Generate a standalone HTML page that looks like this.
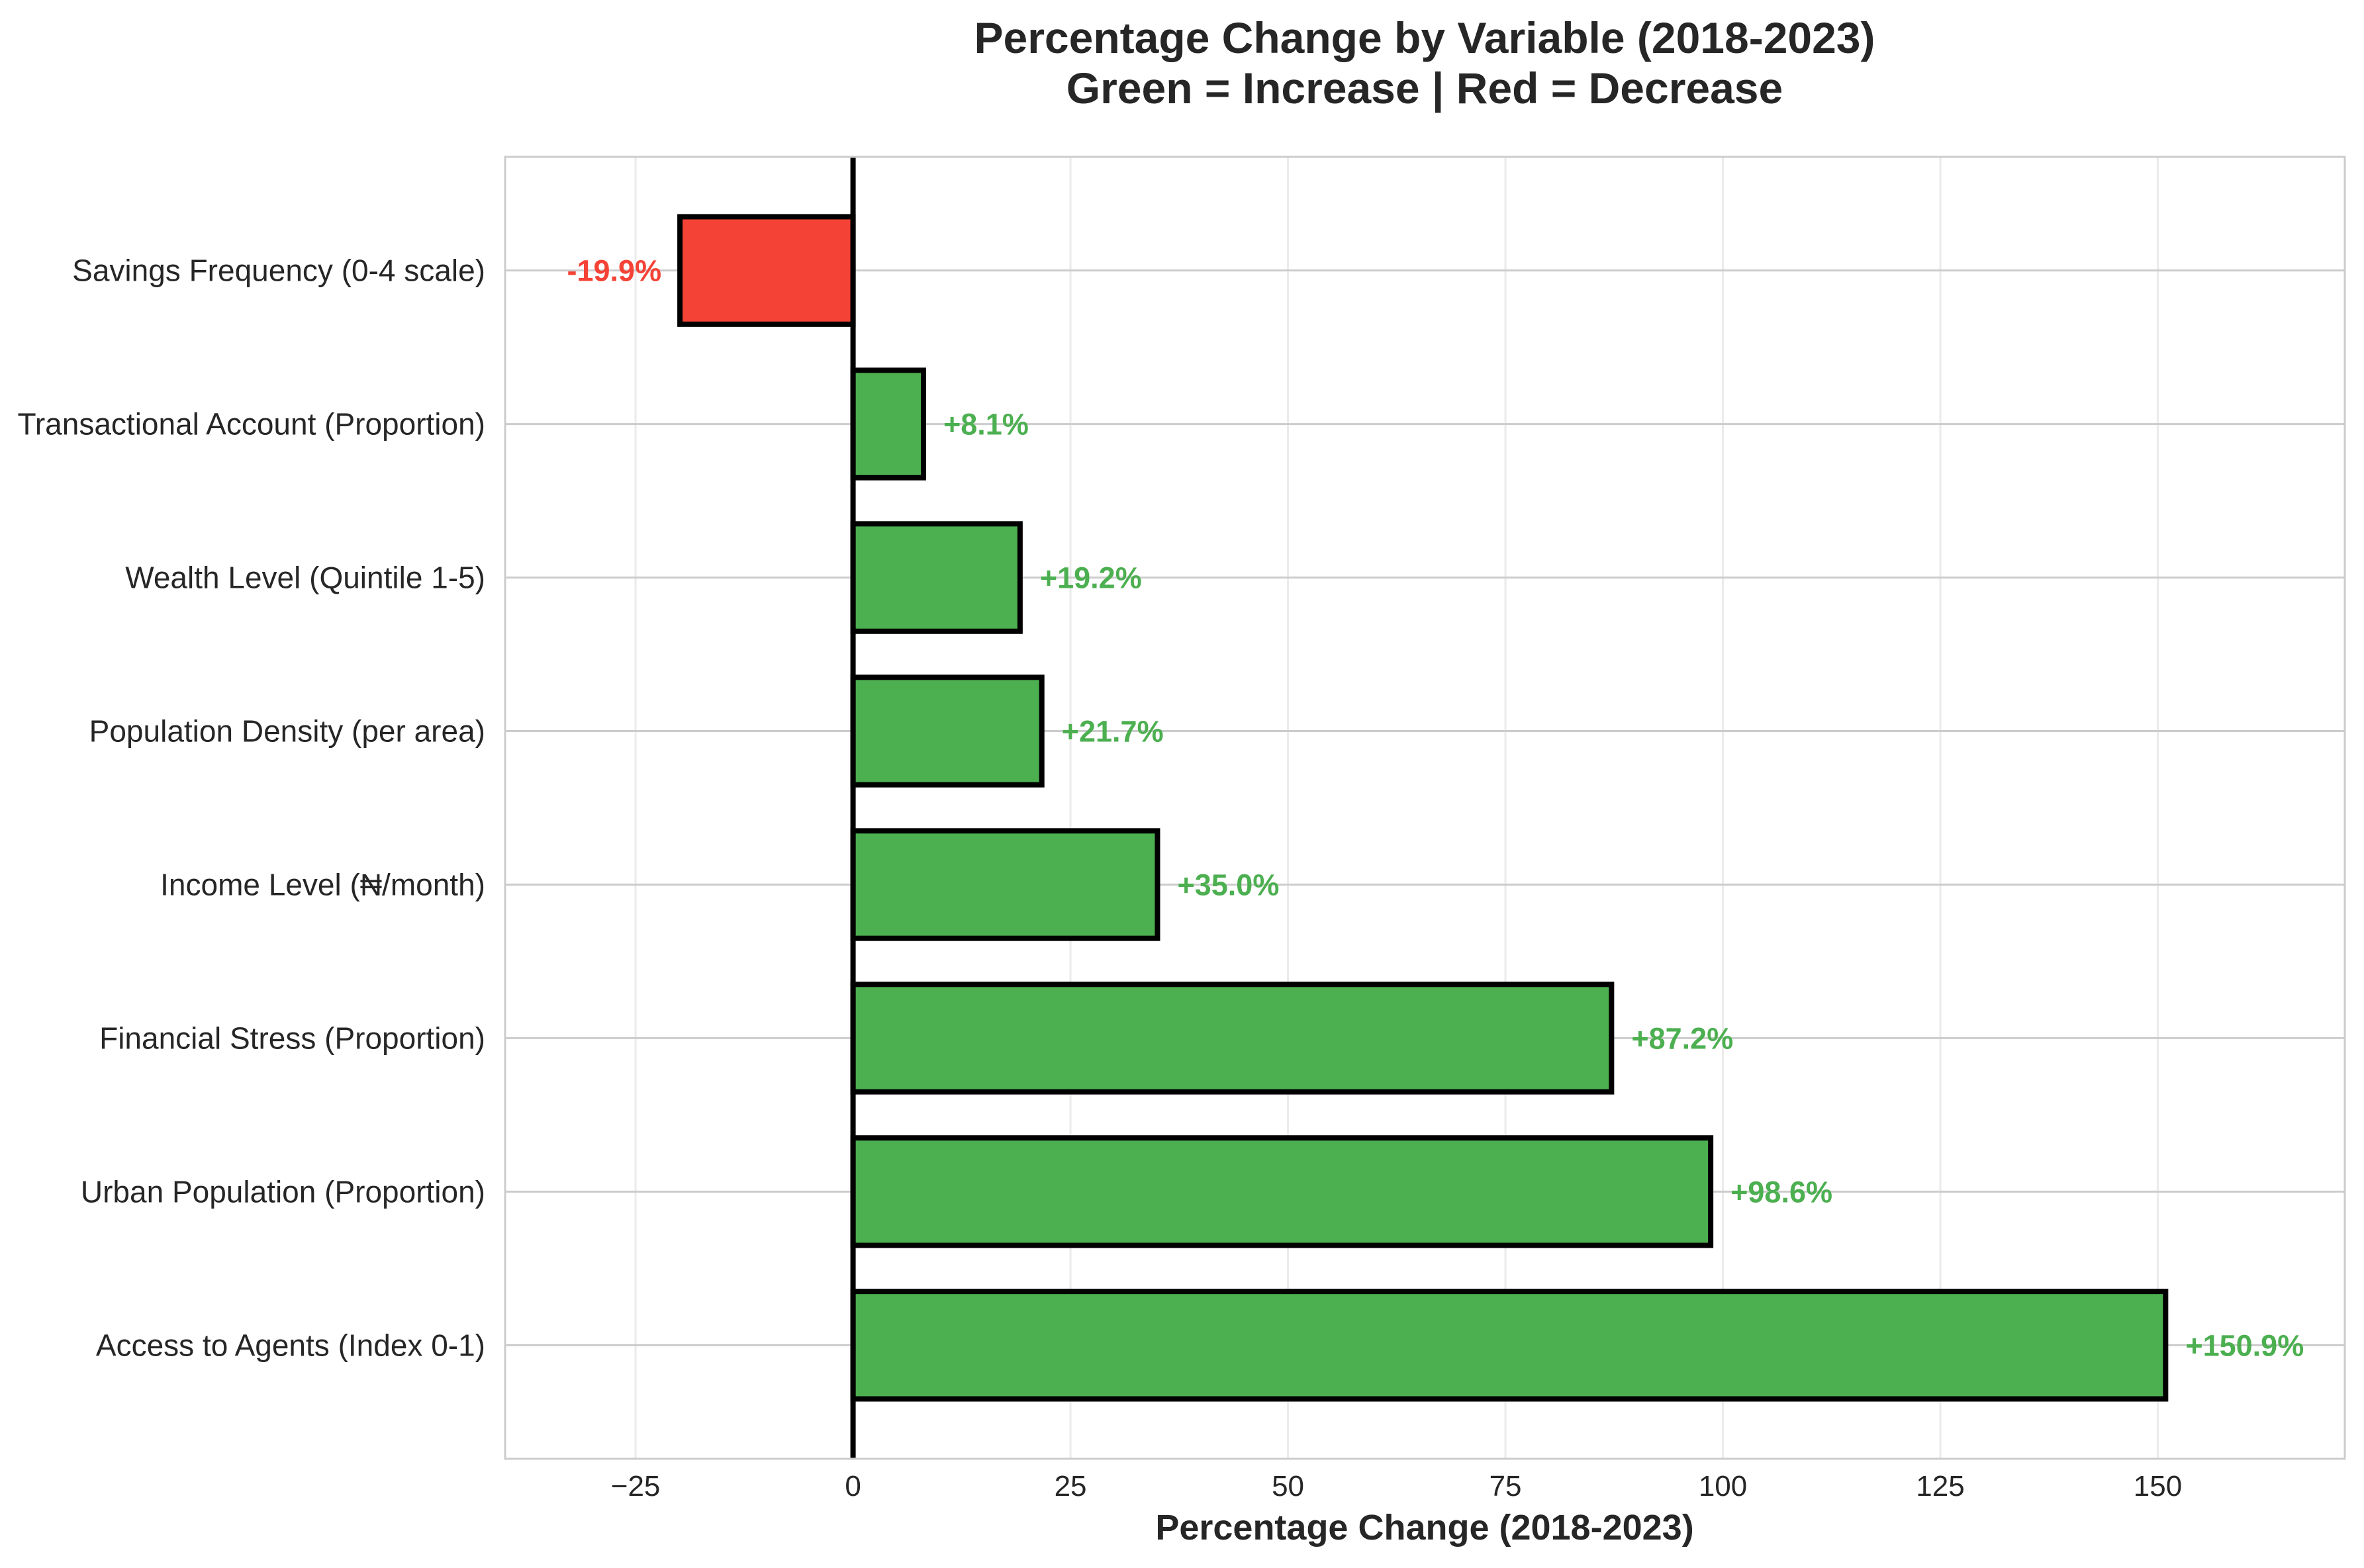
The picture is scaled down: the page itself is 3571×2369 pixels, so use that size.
<!DOCTYPE html>
<html><head><meta charset="utf-8"><style>
html,body{margin:0;padding:0;background:#fff;}
svg{display:block;font-family:"Liberation Sans","DejaVu Sans",sans-serif;}
</style></head><body>
<svg id="chart" width="3571" height="2369" viewBox="0 0 3571 2369">
<rect x="0" y="0" width="3571" height="2369" fill="#fff"/>
<text x="2152" y="80" text-anchor="middle" font-size="66" font-weight="bold" fill="#262626">Percentage Change by Variable (2018-2023)</text>
<text x="2152" y="156" text-anchor="middle" font-size="66" font-weight="bold" fill="#262626">Green = Increase | Red = Decrease</text>
<g id="grid"></g><g id="bars"></g><g id="labels"></g><g id="axes"></g>
<text x="2152" y="2326" text-anchor="middle" font-size="54" font-weight="bold" fill="#262626">Percentage Change (2018-2023)</text>
</svg>
<script>
const categories = ["Savings Frequency (0-4 scale)","Transactional Account (Proportion)","Wealth Level (Quintile 1-5)","Population Density (per area)","Income Level (₦/month)","Financial Stress (Proportion)","Urban Population (Proportion)","Access to Agents (Index 0-1)"];
const values = [-19.9, 8.1, 19.2, 21.7, 35.0, 87.2, 98.6, 150.9];
const valueLabels = ["-19.9%","+8.1%","+19.2%","+21.7%","+35.0%","+87.2%","+98.6%","+150.9%"];
const xTicks = [-25, 0, 25, 50, 75, 100, 125, 150];
const xTickLabels = ["−25","0","25","50","75","100","125","150"];

const L=763,R=3542,T=237,B=2204, xmin=-40, xmax=171.5;
const ymin=-0.74, ymax=7.74;
function xs(v){return L+(v-xmin)/(xmax-xmin)*(R-L);}
function ys(i){return T+(i-ymin)/(ymax-ymin)*(B-T);}
const NS="http://www.w3.org/2000/svg";
function mk(tag,attrs,parent){const e=document.createElementNS(NS,tag);for(const k in attrs)e.setAttribute(k,attrs[k]);parent.appendChild(e);return e;}
const grid=document.getElementById('grid'),bars=document.getElementById('bars'),labels=document.getElementById('labels'),axes=document.getElementById('axes');
xTicks.forEach((t,i)=>{
  const g=mk('line',{x1:xs(t),x2:xs(t),y1:T,y2:B,stroke:'#ebebeb','stroke-width':3},grid);
  
  
  const tl=mk('text',{x:xs(t),y:2260,'text-anchor':'middle','font-size':44,fill:'#262626'},axes);
  tl.textContent=xTickLabels[i];
  
  
});
categories.forEach((c,i)=>{
  const g=mk('line',{x1:L,x2:R,y1:ys(i),y2:ys(i),stroke:'#cccccc','stroke-width':3},grid);
  
  
  const tl=mk('text',{x:733,y:ys(i)+16,'text-anchor':'end','font-size':46,fill:'#262626'},axes);
  tl.textContent=c;
  
  
});
values.forEach((v,i)=>{
  const h=0.7, y0=ys(i-h/2), y1=ys(i+h/2);
  const x0=Math.min(xs(0),xs(v)), x1=Math.max(xs(0),xs(v));
  const b=mk('rect',{x:x0,y:y0,width:x1-x0,height:y1-y0,fill:v<0?'#F44336':'#4CAF50',stroke:'#000','stroke-width':8},bars);
  
  
  const t=mk('text',{x:v<0?xs(v)-28:xs(v)+30,y:ys(i)+16,'text-anchor':v<0?'end':'start','font-size':45,'font-weight':'bold',fill:v<0?'#F44336':'#4CAF50'},labels);
  t.textContent=valueLabels[i];
  
  
});
const z=mk('line',{x1:xs(0),x2:xs(0),y1:T,y2:B,stroke:'#000','stroke-width':8},axes);


const f=mk('rect',{x:L,y:T,width:R-L,height:B-T,fill:'none',stroke:'#cccccc','stroke-width':3},axes);


</script>
</body></html>
